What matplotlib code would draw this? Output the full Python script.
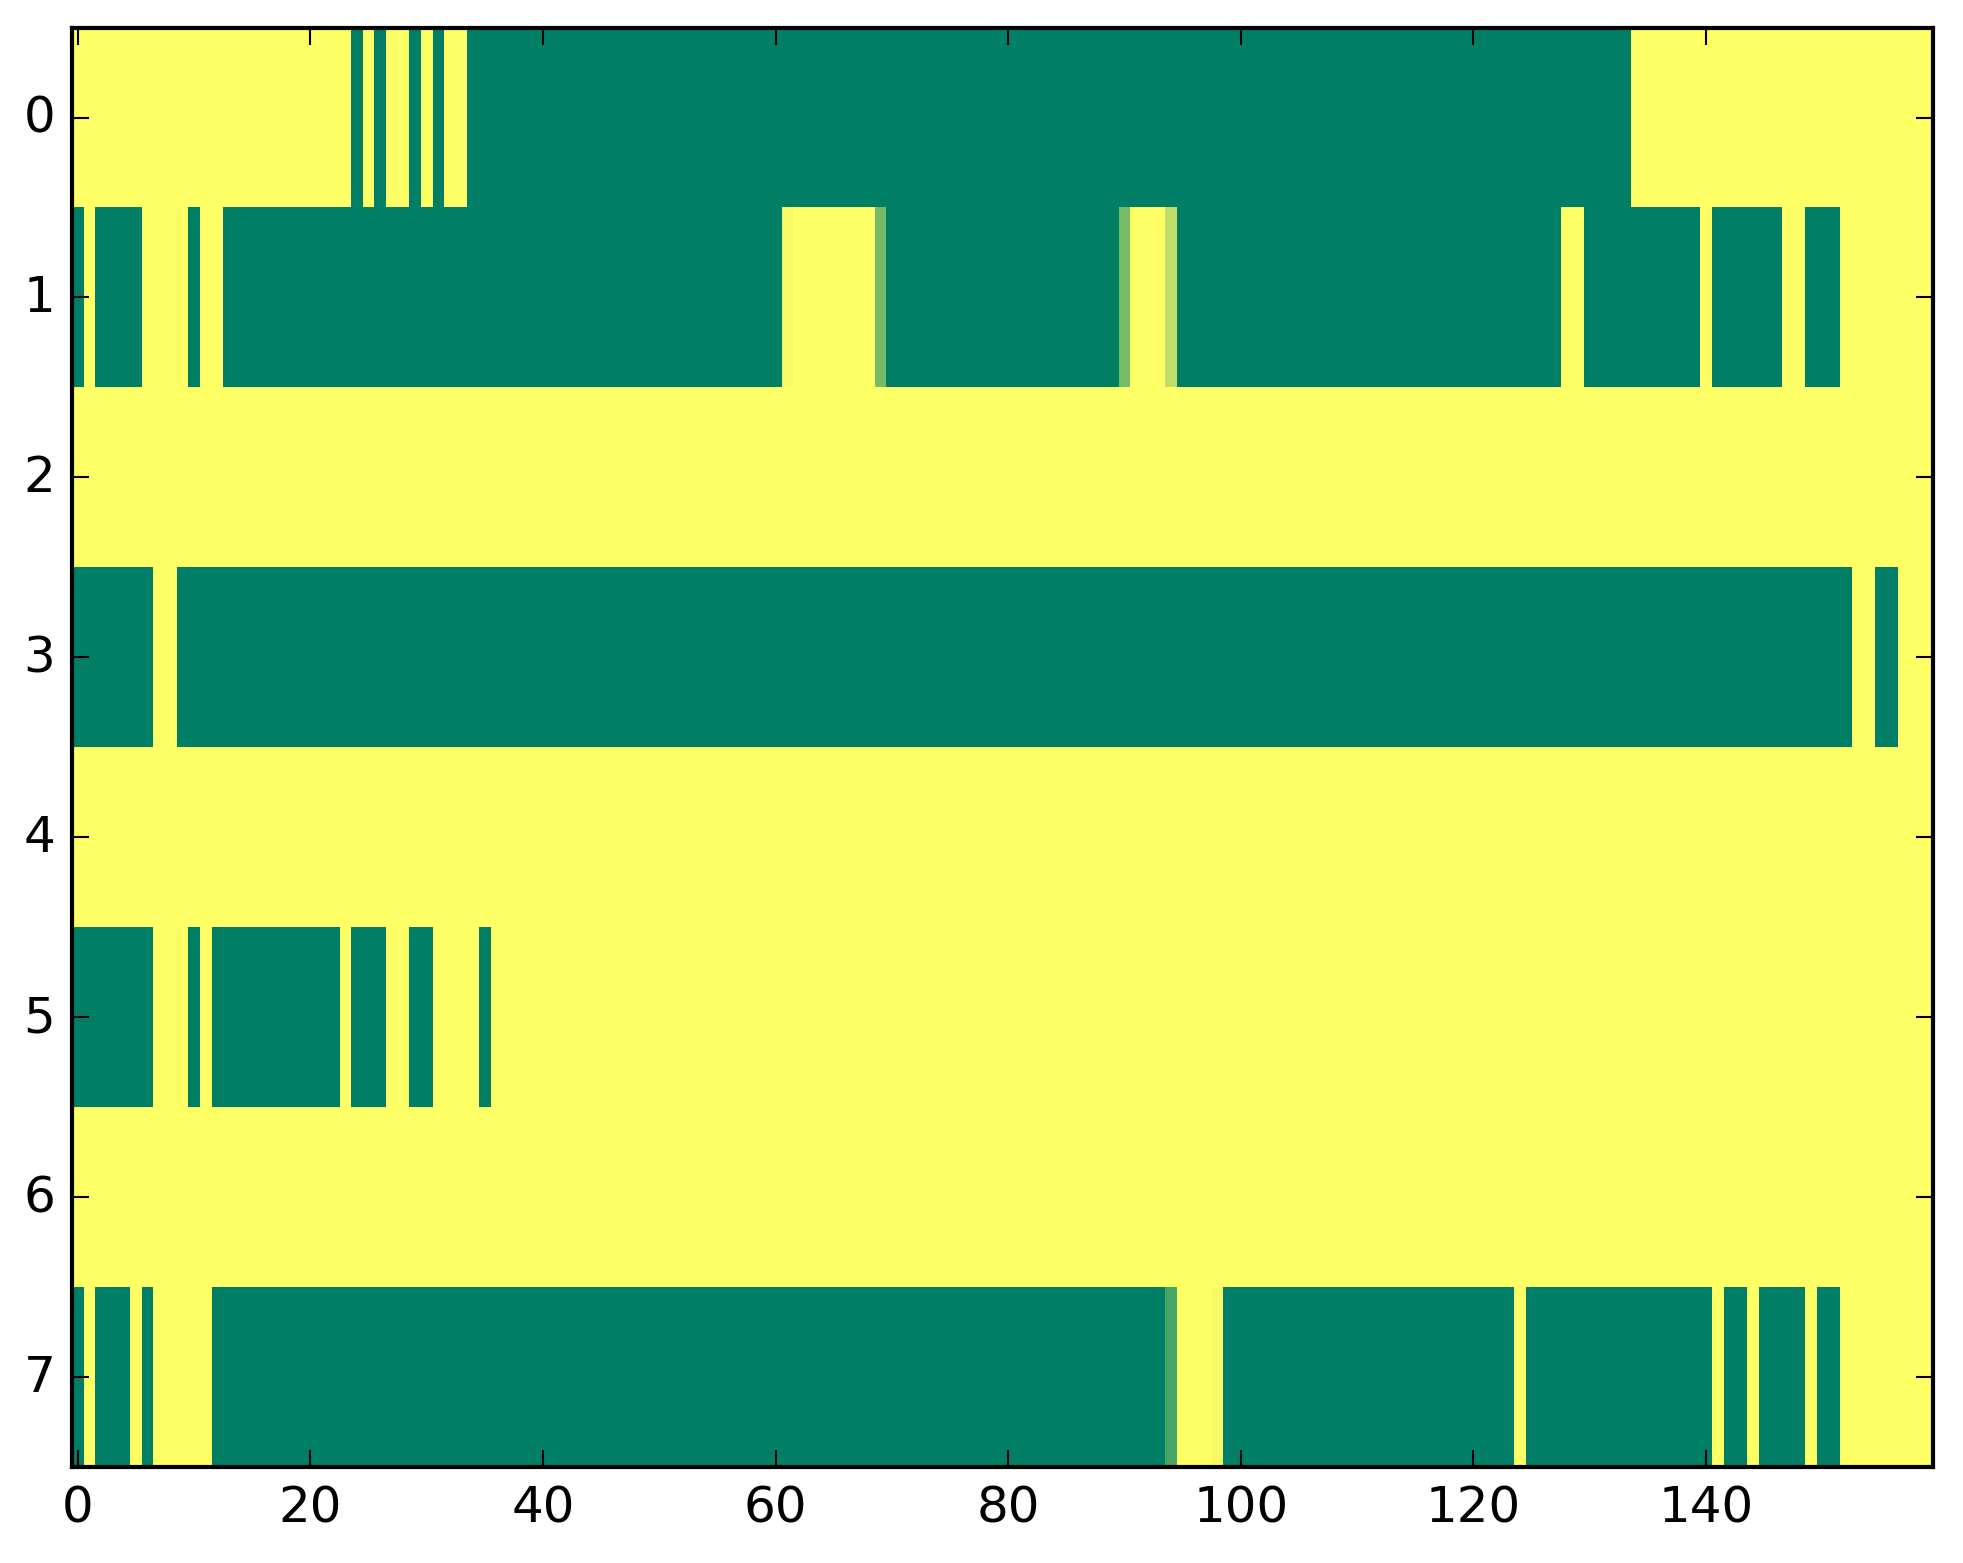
import matplotlib
matplotlib.use("Agg")
import matplotlib.pyplot as plt
import numpy as np

plt.style.use('classic')

# each row given as runs of (value, count); 0 = green, 1 = yellow
row0 = [(1, 24), (0, 1), (1, 1), (0, 1), (1, 2), (0, 1), (1, 1), (0, 1), (1, 2), (0, 100), (1, 26)]
row1 = [(0, 1), (1, 1), (0, 4), (1, 4), (0, 1), (1, 2), (0, 48), (0.96, 1), (1, 7), (0.47, 1),
        (0, 20), (0.47, 1), (1, 3), (0.75, 1), (0, 33), (1, 2), (0, 10), (1, 1), (0, 6), (1, 2),
        (0, 3), (1, 8)]
row2 = [(1, 160)]
row3 = [(0, 7), (1, 2), (0, 144), (1, 2), (0, 2), (1, 3)]
row4 = [(1, 160)]
row5 = [(0, 7), (1, 3), (0, 1), (1, 1), (0, 11), (1, 1), (0, 3), (1, 2), (0, 2), (1, 4), (0, 1), (1, 124)]
row6 = [(1, 160)]
row7 = [(0, 1), (1, 1), (0, 3), (1, 1), (0, 1), (1, 5), (0, 82), (0.28, 1), (1, 3), (0.96, 1),
        (0, 25), (1, 1), (0, 16), (1, 1), (0, 2), (1, 1), (0, 4), (1, 1), (0, 2), (1, 8)]

rows = [row0, row1, row2, row3, row4, row5, row6, row7]
xticks = [0, 20, 40, 60, 80, 100, 120, 140]
yticks = [0, 1, 2, 3, 4, 5, 6, 7]

data = np.array([np.concatenate([np.full(n, v, dtype=float) for v, n in r]) for r in rows])

fig = plt.figure(figsize=(1963 / 300, 1564 / 300), dpi=300, facecolor='white')
ax = fig.add_axes([0.0367, 0.0614, 0.9478, 0.9203])
ax.imshow(data, cmap='summer', aspect='auto', interpolation='nearest', vmin=0, vmax=1)
ax.set_xticks(xticks)
ax.set_yticks(yticks)
ax.set_xlim(-0.5, data.shape[1] - 0.5)
ax.set_ylim(data.shape[0] - 0.5, -0.5)

fig.savefig('out.png', dpi=300, facecolor='white')
